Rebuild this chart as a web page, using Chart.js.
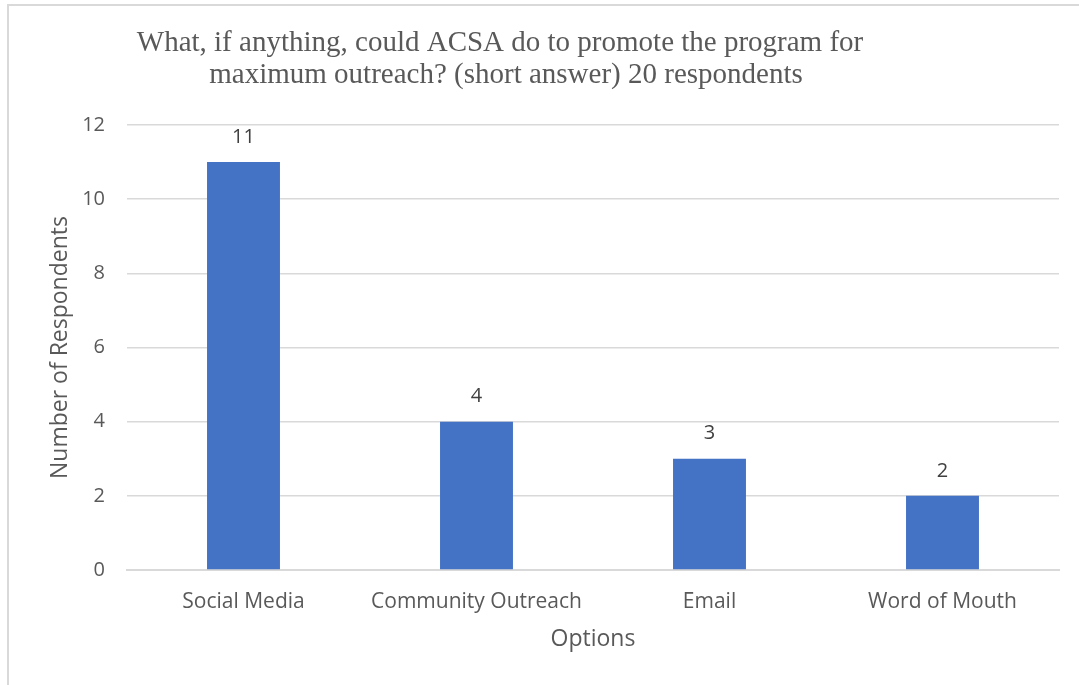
<!DOCTYPE html>
<html>
<head>
<meta charset="utf-8">
<script src="https://cdn.jsdelivr.net/npm/chart.js@4"></script>
<style>
  html, body { margin: 0; padding: 0; background: #fff; }
  #wrap { position: relative; width: 1079px; height: 685px; }
  #frame { position: absolute; left: 7px; top: 4px; right: -2px; bottom: -2px; border: 2px solid #d9d9d9; }
  canvas { position: absolute; left: 0; top: 0; }
</style>
</head>
<body>
<div id="wrap">
  <div id="frame"></div>
  <canvas id="chart" width="1079" height="685"></canvas>
</div>
<script>
const categories = ['Social Media', 'Community Outreach', 'Email', 'Word of Mouth'];
const respondents = [11, 4, 3, 2];
const yTicks = [0, 2, 4, 6, 8, 10, 12];
const titleLines = [
    'What, if anything, could ACSA do to promote the program for',
    'maximum outreach? (short answer) 20 respondents'
];

const sansFont = "'Open Sans', 'Noto Sans', sans-serif";
const textColor = '#595959';

// title sits left of the plot centre, like the original
const titlePlugin = {
    id: 'offsetTitle',
    afterDraw(chart) {
        const ctx = chart.ctx;
        ctx.save();
        ctx.fillStyle = textColor;
        ctx.font = "29px 'Liberation Serif', 'Times New Roman', serif";
        ctx.textAlign = 'center';
        ctx.textBaseline = 'alphabetic';
        ctx.fillText(titleLines[0], 500, 51);
        ctx.fillText(titleLines[1], 506, 83);
        ctx.restore();
    }
};

const valueLabels = {
    id: 'valueLabels',
    afterDatasetsDraw(chart) {
        const ctx = chart.ctx;
        const meta = chart.getDatasetMeta(0);
        ctx.save();
        ctx.fillStyle = '#404040';
        ctx.font = '20px ' + sansFont;
        ctx.textAlign = 'center';
        ctx.textBaseline = 'middle';
        meta.data.forEach((bar, i) => {
            ctx.fillText(String(respondents[i]), bar.x, bar.y - 25);
        });
        ctx.restore();
    }
};

new Chart(document.getElementById('chart'), {
    type: 'bar',
    data: {
        labels: categories,
        datasets: [{
            data: respondents,
            backgroundColor: '#4472C4',
            borderWidth: 0,
            categoryPercentage: 1,
            barPercentage: 0.313,
        }]
    },
    options: {
        responsive: false,
        animation: false,
        layout: {
            padding: { top: 125, left: 45, right: 20, bottom: 30 }
        },
        plugins: {
            legend: { display: false },
            tooltip: { enabled: false },
        },
        scales: {
            y: {
                min: 0,
                max: 12,
                afterBuildTicks(scale) {
                    scale.ticks = yTicks.map(v => ({ value: v }));
                },
                afterFit(scale) { scale.width = 82; },
                border: { display: false },
                grid: { color: '#d9d9d9', lineWidth: 1.5, drawTicks: false },
                ticks: { color: textColor, font: { family: sansFont, size: 20 }, padding: 22 },
                title: {
                    display: true,
                    text: 'Number of Respondents',
                    color: textColor,
                    font: { family: sansFont, size: 23 },
                    padding: 2,
                },
            },
            x: {
                afterFit(scale) { scale.height = 85; },
                border: { color: '#d9d9d9', width: 2 },
                grid: { display: false },
                ticks: { color: textColor, font: { family: sansFont, size: 21 }, padding: 11 },
                title: {
                    display: true,
                    text: 'Options',
                    color: textColor,
                    font: { family: sansFont, size: 23 },
                    padding: 2,
                },
            }
        }
    },
    plugins: [titlePlugin, valueLabels]
});
</script>
</body>
</html>
